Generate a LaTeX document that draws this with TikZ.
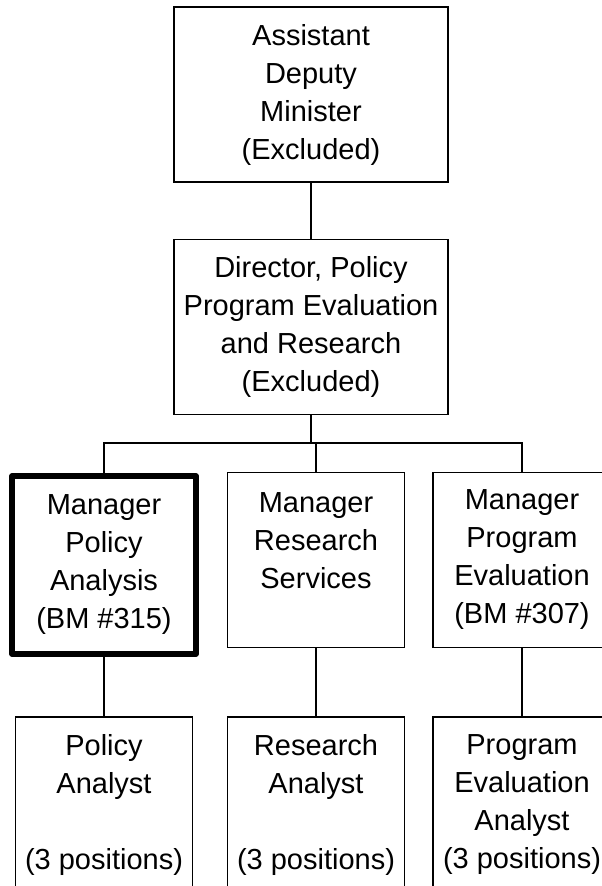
\documentclass[tikz,border=0pt]{standalone}
\usepackage{fontspec}
\setmainfont{Liberation Sans}

\begin{document}
\begin{tikzpicture}[x=1pt, y=-1pt,
  post/.style={draw, line width=1.6pt, align=center, inner sep=0pt,
    font=\fontsize{29}{38}\selectfont, minimum width=#1, minimum height=175pt},
  ownpost/.style={post=#1, line width=5.5pt, line join=round, minimum height=178pt},
  link/.style={line width=1.6pt}]
  \useasboundingbox (0,0) rectangle (602,886);
  \fill[white] (0,0) rectangle (602,886);
  \clip (0,0) rectangle (602,886);

  \node[post=274pt] (adm) at (311,94.5) {Assistant\\Deputy\\Minister\\(Excluded)};
  \node[post=274pt] (dir) at (311,327) {Director, Policy\\Program Evaluation\\and Research\\(Excluded)};

  \node[ownpost=184pt] (mpa) at (104,565) {Manager\\Policy\\Analysis\\(BM \#315)};
  \node[post=177pt] (mrs) at (316,560) {Manager\\Research\\Services\\\mbox{}};
  \node[post=178pt] (mpe) at (522,560) {Manager\\Program\\Evaluation\\(BM \#307)};

  \node[post=177pt] (pa) at (104,804.5) {Policy\\Analyst\\\mbox{}\\(3 positions)};
  \node[post=177pt] (ra) at (316,804.5) {Research\\Analyst\\\mbox{}\\(3 positions)};
  \node[post=178pt] (pea) at (522,804.5) {Program\\Evaluation\\Analyst\\(3 positions)};

  \coordinate (bus) at (311,443);
  \draw[link] (adm.south) -- (dir.south |- adm.south) -- (dir.north);
  \draw[link] (dir.south) -- (bus);
  \draw[link] (mpa.north) -- (mpa.north |- bus) -- (mpe.north |- bus) -- (mpe.north);
  \draw[link] (mrs.north |- bus) -- (mrs.north);

  \draw[link] (mpa.south) -- (pa.north);
  \draw[link] (mrs.south) -- (ra.north);
  \draw[link] (mpe.south) -- (pea.north);
\end{tikzpicture}
\end{document}
